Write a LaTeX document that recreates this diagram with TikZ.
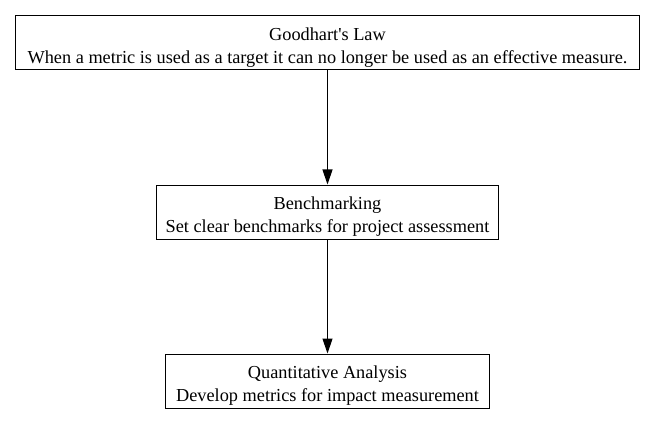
\documentclass[tikz,border=0pt]{standalone}
\usepackage{fontspec}
\setmainfont{Liberation Serif}
\usetikzlibrary{arrows.meta}
\newcommand{\mytopstrut}{\rule{0pt}{21pt}}
\begin{document}
\begin{tikzpicture}[x=1pt,y=1pt,
  box/.style={draw=black, line width=1pt, rectangle, minimum height=54pt, inner sep=0pt, align=center,
    font=\fontsize{18.3}{23}\selectfont},
  conn/.style={draw=black, line width=1.2pt, -{Triangle[length=15pt,width=10pt]}}]
\useasboundingbox (0,0) rectangle (656,-425);
\node[box, minimum width=624pt] (g) at (327.5,-43) {\mytopstrut Goodhart\textquotesingle s Law\\When a metric is used as a target it can no longer be used as an effective measure.};
\node[box, minimum width=342pt] (b) at (327.5,-212) {\mytopstrut Benchmarking\\Set clear benchmarks for project assessment};
\node[box, minimum width=324pt] (q) at (327.5,-381) {\mytopstrut Quantitative Analysis\\Develop metrics for impact measurement};
\draw[conn] (g) -- (b);
\draw[conn] (b) -- (q);
\end{tikzpicture}
\end{document}
